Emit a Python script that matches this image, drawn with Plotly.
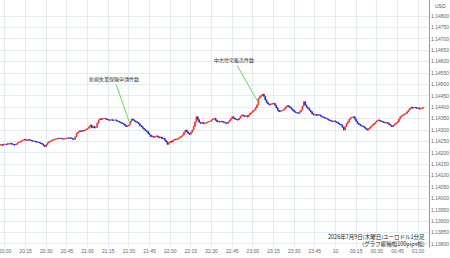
import plotly.graph_objects as go
import pandas as pd

# 1-minute closes (EUR/USD), starting 2026-07-09 19:56
closes = [
    1.14234, 1.14236, 1.14233, 1.14237,
    1.14238, 1.14236, 1.14240, 1.14239, 1.14242, 1.14238, 1.14236, 1.14234, 1.14238, 1.14243, 1.14246, 1.14249, 1.14252, 1.14255, 1.14259,
    1.14257, 1.14255, 1.14258, 1.14256, 1.14253, 1.14251, 1.14252, 1.14249, 1.14247, 1.14246, 1.14244, 1.14241, 1.14238, 1.14232, 1.14227,
    1.14236, 1.14244, 1.14249, 1.14251, 1.14255, 1.14257, 1.14259, 1.14261, 1.14262, 1.14264, 1.14262, 1.14263, 1.14260, 1.14261, 1.14263,
    1.14265, 1.14264, 1.14266, 1.14263, 1.14261, 1.14259, 1.14270, 1.14286, 1.14291, 1.14296, 1.14293, 1.14298, 1.14296, 1.14300, 1.14303,
    1.14307, 1.14314, 1.14322, 1.14310, 1.14316, 1.14309, 1.14312, 1.14330, 1.14344, 1.14349, 1.14347, 1.14350, 1.14351, 1.14349, 1.14346,
    1.14344, 1.14343, 1.14345, 1.14342, 1.14344, 1.14344, 1.14340, 1.14338, 1.14335, 1.14332, 1.14329, 1.14326, 1.14320, 1.14315, 1.14318,
    1.14322, 1.14338, 1.14348, 1.14344, 1.14340, 1.14336, 1.14333, 1.14327, 1.14320, 1.14315, 1.14308, 1.14303, 1.14297, 1.14293, 1.14285,
    1.14278, 1.14270, 1.14273, 1.14268, 1.14271, 1.14274, 1.14270, 1.14266, 1.14269, 1.14262, 1.14264, 1.14255, 1.14248, 1.14237, 1.14245,
    1.14250, 1.14247, 1.14256, 1.14259, 1.14257, 1.14261, 1.14264, 1.14268, 1.14273, 1.14278, 1.14290, 1.14300, 1.14292, 1.14285, 1.14281,
    1.14290, 1.14300, 1.14315, 1.14335, 1.14358, 1.14345, 1.14334, 1.14330, 1.14333, 1.14327, 1.14329, 1.14332, 1.14335, 1.14337, 1.14339,
    1.14344, 1.14348, 1.14351, 1.14343, 1.14336, 1.14338, 1.14335, 1.14338, 1.14336, 1.14333, 1.14331, 1.14329, 1.14335, 1.14342, 1.14350,
    1.14358, 1.14352, 1.14348, 1.14346, 1.14344, 1.14352, 1.14360, 1.14366, 1.14363, 1.14360, 1.14362, 1.14358, 1.14366, 1.14373, 1.14378,
    1.14384, 1.14388, 1.14398, 1.14410, 1.14439, 1.14446, 1.14452, 1.14457, 1.14448, 1.14432, 1.14420, 1.14414, 1.14410, 1.14413, 1.14416,
    1.14417, 1.14409, 1.14398, 1.14387, 1.14380, 1.14383, 1.14386, 1.14388, 1.14395, 1.14402, 1.14407, 1.14403, 1.14398, 1.14392, 1.14386,
    1.14380, 1.14377, 1.14375, 1.14373, 1.14380, 1.14388, 1.14405, 1.14424, 1.14410, 1.14400, 1.14395, 1.14387, 1.14380, 1.14372, 1.14366,
    1.14368, 1.14364, 1.14367, 1.14366, 1.14362, 1.14358, 1.14356, 1.14353, 1.14351, 1.14348, 1.14344, 1.14341, 1.14339, 1.14337, 1.14340,
    1.14336, 1.14333, 1.14328, 1.14325, 1.14322, 1.14312, 1.14300, 1.14315, 1.14328, 1.14336, 1.14347, 1.14354, 1.14356, 1.14358, 1.14348,
    1.14338, 1.14329, 1.14325, 1.14320, 1.14318, 1.14315, 1.14310, 1.14305, 1.14300, 1.14306, 1.14312, 1.14318, 1.14322, 1.14328, 1.14335,
    1.14340, 1.14344, 1.14341, 1.14338, 1.14336, 1.14334, 1.14331, 1.14333, 1.14329, 1.14324, 1.14319, 1.14315, 1.14320, 1.14326, 1.14331,
    1.14336, 1.14348, 1.14358, 1.14362, 1.14366, 1.14370, 1.14373, 1.14380, 1.14388, 1.14395, 1.14400, 1.14396, 1.14399, 1.14398, 1.14395,
    1.14397, 1.14392, 1.14394, 1.14397, 1.14398,
]
first_open = 1.14231

tick_labels = ["20:00", "20:15", "20:30", "20:45", "21:00", "21:15", "21:30", "21:45",
               "22:00", "22:15", "22:30", "22:45", "23:00", "23:15", "23:30", "23:45",
               "10", "00:15", "00:30", "00:45", "01:00"]

price_ticks = [1.13800, 1.13850, 1.13900, 1.13950, 1.14000, 1.14050, 1.14100,
               1.14150, 1.14200, 1.14250, 1.14300, 1.14350, 1.14400, 1.14450,
               1.14500, 1.14550, 1.14600, 1.14650, 1.14700, 1.14750, 1.14800]

news_labels = ["新規失業保険申請件数", "中古住宅販売件数"]
news_times = ["2026-07-09 21:31", "2026-07-09 23:03:40"]
news_prices = [1.14322, 1.14423]

caption_lines = ["2026年7月9日(木曜日)ユーロドル1分足", "(グラフ縦軸幅100pips幅)"]

times = pd.date_range("2026-07-09 19:56", periods=len(closes), freq="1min")
opens = [first_open] + closes[:-1]
highs = [max(o, c) for o, c in zip(opens, closes)]
lows = [min(o, c) for o, c in zip(opens, closes)]

RED = "#ef3434"
BLUE = "#2a2ad0"
GRID = "#e4ebf2"

fig = go.Figure(go.Candlestick(
    x=times, open=opens, high=highs, low=lows, close=closes,
    increasing=dict(line=dict(color=RED, width=1), fillcolor=RED),
    decreasing=dict(line=dict(color=BLUE, width=1), fillcolor=BLUE),
    whiskerwidth=0, hoverinfo="skip", showlegend=False,
))

tickvals = pd.date_range("2026-07-09 20:00", periods=len(tick_labels), freq="15min")

fig.update_layout(
    width=450, height=258,
    margin=dict(l=0, r=21, t=0, b=11),
    paper_bgcolor="white", plot_bgcolor="white",
    font=dict(family="Liberation Sans, Arial, sans-serif", size=5, color="#555"),
    xaxis=dict(
        range=["2026-07-09 19:56:24", "2026-07-10 01:07:54"],
        tickvals=list(tickvals), ticktext=tick_labels,
        showgrid=True, gridcolor=GRID, gridwidth=1,
        rangeslider=dict(visible=False), showline=False, zeroline=False,
        ticks="", tickfont=dict(size=5, color="#666"), ticklabelstandoff=0,
        ticklabeloverflow="allow",
    ),
    yaxis=dict(
        side="right", range=[1.137868, 1.148702],
        tickvals=price_ticks, tickformat=".5f",
        showgrid=True, gridcolor=GRID, gridwidth=1,
        showline=True, linecolor="#9a9a9a", linewidth=1, zeroline=False,
        ticks="", tickfont=dict(size=5, color="#666"),
    ),
)

fig.add_annotation(xref="paper", yref="paper", x=1.0, y=1.0, xanchor="left", yanchor="top",
                   xshift=4, yshift=-1, text="USD", showarrow=False,
                   font=dict(size=5, color="#555"))

for lab, t, p in zip(news_labels, news_times, news_prices):
    fig.add_annotation(x=t, y=p, text=lab, showarrow=True, arrowhead=0,
                       arrowcolor="#5ee05e", arrowwidth=1,
                       ax=-16 if lab.startswith("新") else -24,
                       ay=-46 if lab.startswith("新") else -42,
                       font=dict(family="Noto Sans CJK JP", size=5, color="#333"))

fig.add_annotation(xref="paper", yref="paper", x=0.995, y=0.0, xanchor="right", yanchor="bottom",
                   yshift=-3, text="<br>".join(caption_lines), showarrow=False, align="right",
                   font=dict(family="Noto Sans CJK JP", size=5.5, color="#222"))

fig.write_html("out.html")
